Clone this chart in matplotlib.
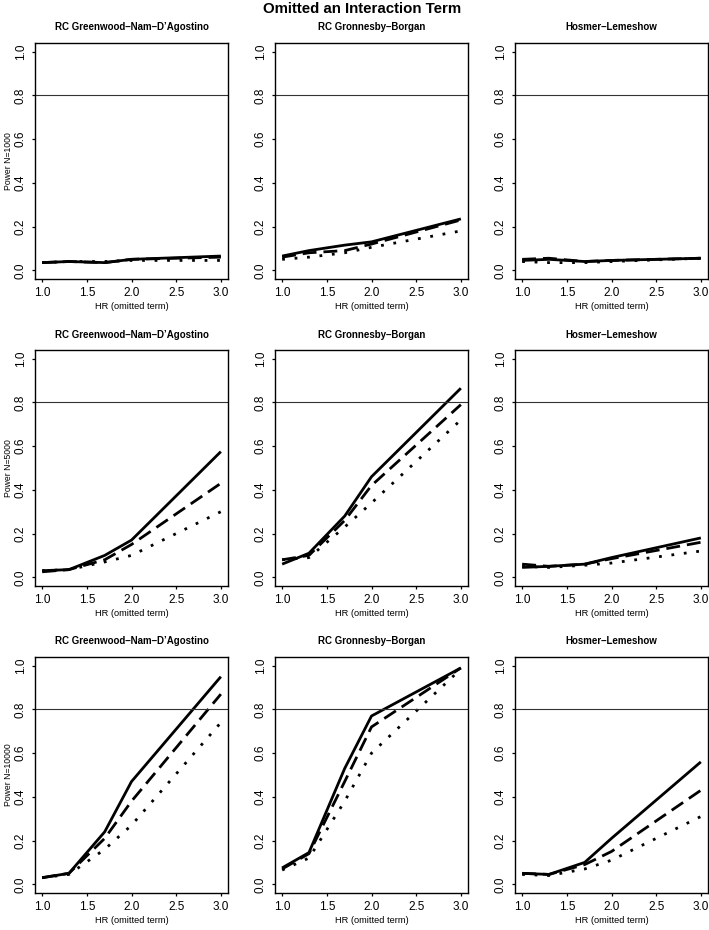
import matplotlib
matplotlib.use("Agg")
import matplotlib.pyplot as plt

plt.rcParams['font.family'] = ['Liberation Sans', 'DejaVu Sans']

hr = [1.0, 1.3, 1.7, 2.0, 3.0]

tests = ["RC Greenwood\u2013Nam\u2013D\u2019Agostino", "RC Gronnesby\u2013Borgan", "Hosmer\u2013Lemeshow"]
sizes = ["Power N=1000", "Power N=5000", "Power N=10000"]

# power[row][col] = (solid, dashed, dotted)
n1000_gnd = ([0.035, 0.040, 0.035, 0.050, 0.065],
             [0.035, 0.040, 0.035, 0.050, 0.060],
             [0.035, 0.040, 0.040, 0.045, 0.045])
n1000_gb = ([0.065, 0.090, 0.115, 0.130, 0.235],
            [0.060, 0.080, 0.090, 0.120, 0.230],
            [0.050, 0.060, 0.080, 0.105, 0.180])
n1000_hl = ([0.045, 0.050, 0.040, 0.045, 0.055],
            [0.050, 0.055, 0.040, 0.045, 0.055],
            [0.040, 0.035, 0.035, 0.040, 0.055])

n5000_gnd = ([0.030, 0.035, 0.100, 0.170, 0.575],
             [0.025, 0.035, 0.080, 0.150, 0.430],
             [0.030, 0.035, 0.070, 0.100, 0.300])
n5000_gb = ([0.060, 0.110, 0.280, 0.460, 0.865],
            [0.080, 0.100, 0.260, 0.420, 0.790],
            [0.080, 0.090, 0.230, 0.340, 0.720])
n5000_hl = ([0.045, 0.050, 0.060, 0.090, 0.180],
            [0.060, 0.050, 0.060, 0.085, 0.160],
            [0.050, 0.045, 0.055, 0.065, 0.120])

n10000_gnd = ([0.030, 0.050, 0.240, 0.470, 0.950],
              [0.030, 0.050, 0.210, 0.380, 0.870],
              [0.030, 0.045, 0.160, 0.270, 0.740])
n10000_gb = ([0.075, 0.145, 0.530, 0.770, 0.990],
             [0.070, 0.140, 0.470, 0.720, 0.990],
             [0.065, 0.120, 0.380, 0.600, 0.985])
n10000_hl = ([0.050, 0.045, 0.100, 0.210, 0.560],
             [0.050, 0.045, 0.090, 0.150, 0.430],
             [0.045, 0.040, 0.070, 0.110, 0.310])

power = [[n1000_gnd, n1000_gb, n1000_hl],
         [n5000_gnd, n5000_gb, n5000_hl],
         [n10000_gnd, n10000_gb, n10000_hl]]

W, H = 709, 930
fig = plt.figure(figsize=(W / 100, H / 100), dpi=100)

lefts = [35, 275, 515]
tops = [43, 350, 657]
aw, ah = 193, 236

styles = [dict(linestyle='-'),
          dict(linestyle=(0, (5, 2.5))),
          dict(linestyle=(0, (1, 3.5)))]

for r in range(3):
    for c in range(3):
        ax = fig.add_axes([lefts[c] / W, 1 - (tops[r] + ah) / H, aw / W, ah / H])
        for vals, st in zip(power[r][c], styles):
            ax.plot(hr, vals, color='black', lw=2, solid_capstyle='butt',
                    dash_capstyle='butt', **st)
        ax.axhline(0.8, color='#333333', lw=0.8)
        ax.set_xlim(0.92, 3.08)
        ax.set_ylim(-0.04, 1.04)
        ax.set_xticks([1.0, 1.5, 2.0, 2.5, 3.0])
        ax.set_xticklabels(['1.0', '1.5', '2.0', '2.5', '3.0'])
        ax.set_yticks([0.0, 0.2, 0.4, 0.6, 0.8, 1.0])
        ax.set_yticklabels(['0.0', '0.2', '0.4', '0.6', '0.8', '1.0'], rotation=90, va='center')
        ax.tick_params(length=2.5, width=0.9, labelsize=8.5, pad=3.5)
        for sp in ax.spines.values():
            sp.set_linewidth(1.0)
        ax.set_title(tests[c], fontsize=7, fontweight='bold', pad=9)
        ax.set_xlabel('HR (omitted term)', fontsize=6.7, labelpad=2)
        if c == 0:
            ax.set_ylabel(sizes[r], fontsize=6.2, labelpad=1.5)

fig.text(0.51, 1 - 9 / H, 'Omitted an Interaction Term', ha='center', va='center',
         fontsize=10.8, fontweight='bold')

fig.savefig('out.png', dpi=100)
